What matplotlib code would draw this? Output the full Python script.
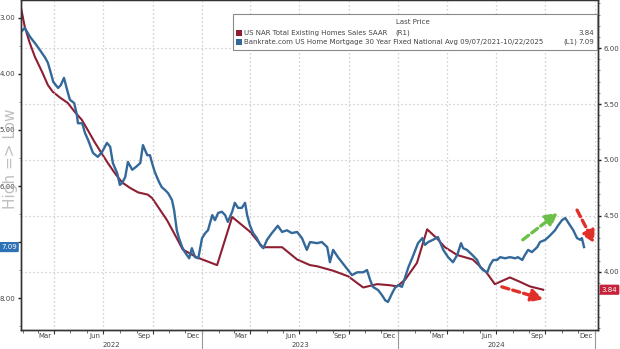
import matplotlib
matplotlib.use("Agg")
import matplotlib.pyplot as plt
import matplotlib.dates as mdates
import matplotlib.transforms as mtransforms
from matplotlib.patches import Rectangle
from matplotlib.ticker import FixedLocator, MultipleLocator, NullFormatter
import pandas as pd

# Bankrate 30y fixed mortgage rate, % (left axis, inverted)
rate_dates = [
    "2022-01-29", "2022-02-05", "2022-02-15", "2022-02-24", "2022-03-05", "2022-03-15",
    "2022-03-20", "2022-03-24", "2022-03-30", "2022-04-08", "2022-04-13", "2022-04-19",
    "2022-04-25", "2022-04-30", "2022-05-08", "2022-05-13", "2022-05-15", "2022-05-23",
    "2022-05-28", "2022-06-03", "2022-06-12", "2022-06-21", "2022-06-29", "2022-07-08",
    "2022-07-14", "2022-07-19", "2022-07-27", "2022-08-01", "2022-08-05", "2022-08-11",
    "2022-08-16", "2022-08-24", "2022-08-31", "2022-09-08", "2022-09-13", "2022-09-17",
    "2022-09-21", "2022-09-26", "2022-09-30", "2022-10-05", "2022-10-13", "2022-10-18",
    "2022-10-24", "2022-10-30", "2022-11-06", "2022-11-10", "2022-11-15", "2022-11-19",
    "2022-11-25", "2022-11-30", "2022-12-08", "2022-12-13", "2022-12-19", "2022-12-25",
    "2023-01-01", "2023-01-07", "2023-01-12", "2023-01-20", "2023-01-25", "2023-01-31",
    "2023-02-07", "2023-02-13", "2023-02-18", "2023-02-26", "2023-03-03", "2023-03-09",
    "2023-03-16", "2023-03-22", "2023-03-26", "2023-03-31", "2023-04-06", "2023-04-13",
    "2023-04-19", "2023-04-25", "2023-05-02", "2023-05-11", "2023-05-22", "2023-05-30",
    "2023-06-08", "2023-06-17", "2023-06-27", "2023-07-06", "2023-07-15", "2023-07-21",
    "2023-08-03", "2023-08-12", "2023-08-22", "2023-08-27", "2023-09-02", "2023-09-11",
    "2023-09-20", "2023-09-30", "2023-10-07", "2023-10-17", "2023-10-28", "2023-11-04",
    "2023-11-10", "2023-11-15", "2023-11-25", "2023-12-02", "2023-12-08", "2023-12-13",
    "2023-12-21", "2023-12-26", "2024-01-01", "2024-01-08", "2024-01-14", "2024-01-20",
    "2024-01-27", "2024-02-02", "2024-02-07", "2024-02-15", "2024-02-20", "2024-02-26",
    "2024-03-06", "2024-03-15", "2024-03-25", "2024-04-03", "2024-04-12", "2024-04-20",
    "2024-04-27", "2024-05-01", "2024-05-08", "2024-05-18", "2024-05-27", "2024-06-02",
    "2024-06-07", "2024-06-15", "2024-06-20", "2024-06-26", "2024-07-03", "2024-07-09",
    "2024-07-18", "2024-07-27", "2024-08-06", "2024-08-11", "2024-08-19", "2024-08-24",
    "2024-08-30", "2024-09-06", "2024-09-16", "2024-09-21", "2024-10-01", "2024-10-10",
    "2024-10-19", "2024-10-25", "2024-11-01", "2024-11-07", "2024-11-16", "2024-11-22",
    "2024-11-29", "2024-12-05", "2024-12-08", "2024-12-12",
]
rate_vals = [
    3.25, 3.18, 3.34, 3.45, 3.57, 3.71,
    3.80, 3.93, 4.14, 4.25, 4.20, 4.07,
    4.29, 4.46, 4.52, 4.73, 4.88, 4.88,
    5.05, 5.18, 5.41, 5.48, 5.39, 5.23,
    5.30, 5.59, 5.77, 5.98, 5.95, 5.84,
    5.57, 5.71, 5.66, 5.59, 5.27, 5.36,
    5.45, 5.45, 5.59, 5.75, 5.93, 6.02,
    6.07, 6.13, 6.25, 6.43, 6.79, 6.93,
    7.09, 7.18, 7.29, 7.11, 7.27, 7.29,
    6.93, 6.84, 6.79, 6.52, 6.61, 6.48,
    6.46, 6.52, 6.64, 6.46, 6.30, 6.39,
    6.39, 6.30, 6.52, 6.70, 6.84, 6.93,
    7.05, 7.11, 6.96, 6.84, 6.71, 6.82,
    6.79, 6.84, 6.82, 6.93, 7.14, 7.00,
    7.02, 7.00, 7.09, 7.36, 7.14, 7.27,
    7.38, 7.50, 7.59, 7.54, 7.54, 7.50,
    7.68, 7.80, 7.86, 7.95, 8.04, 8.07,
    7.91, 7.82, 7.77, 7.80, 7.63, 7.45,
    7.29, 7.14, 7.02, 6.93, 7.05, 7.00,
    6.96, 6.91, 7.14, 7.27, 7.36, 7.23,
    7.02, 7.11, 7.14, 7.23, 7.32, 7.45,
    7.50, 7.54, 7.41, 7.32, 7.32, 7.27,
    7.29, 7.27, 7.29, 7.27, 7.32, 7.23,
    7.14, 7.18, 7.09, 7.00, 6.96, 6.88,
    6.79, 6.70, 6.61, 6.57, 6.70, 6.79,
    6.93, 6.96, 6.93, 7.09,
]

# NAR existing home sales, SAAR in millions (right axis)
sales_dates = [
    "2022-01-29", "2022-02-05", "2022-02-14", "2022-02-24", "2022-03-09", "2022-03-20",
    "2022-03-29", "2022-04-11", "2022-04-26", "2022-05-09", "2022-05-22", "2022-06-02",
    "2022-06-15", "2022-06-28", "2022-07-10", "2022-07-23", "2022-08-05", "2022-08-20",
    "2022-09-04", "2022-09-22", "2022-09-30", "2022-10-28", "2022-11-15", "2022-11-26",
    "2022-12-22", "2023-01-29", "2023-02-26", "2023-03-31", "2023-04-24", "2023-05-30",
    "2023-06-27", "2023-07-21", "2023-08-03", "2023-09-02", "2023-09-30", "2023-10-28",
    "2023-11-23", "2023-12-17", "2023-12-30", "2024-01-14", "2024-02-05", "2024-02-24",
    "2024-03-13", "2024-03-28", "2024-04-20", "2024-05-19", "2024-06-14", "2024-06-29",
    "2024-07-27", "2024-08-15", "2024-09-02", "2024-09-27",
]
sales_vals = [
    6.36, 6.19, 6.05, 5.92, 5.79, 5.67,
    5.61, 5.56, 5.51, 5.43, 5.36, 5.27,
    5.16, 5.06, 4.97, 4.88, 4.80, 4.75,
    4.71, 4.69, 4.66, 4.46, 4.30, 4.20,
    4.13, 4.06, 4.49, 4.36, 4.22, 4.22,
    4.11, 4.06, 4.05, 4.01, 3.96, 3.86,
    3.89, 3.88, 3.87, 3.93, 4.08, 4.38,
    4.30, 4.22, 4.15, 4.11, 3.99, 3.89,
    3.95, 3.91, 3.87, 3.84,
]

last_rate = 7.09
last_sales = 3.84

rate_name = "Bankrate.com US Home Mortgage 30 Year Fixed National Avg 09/07/2021-10/22/2025"
sales_name = "US NAR Total Existing Homes Sales SAAR"

left_ticks = [3, 4, 5, 6, 7, 8]
left_labels = ["3.00", "4.00", "5.00", "6.00", "", "8.00"]
right_ticks = [4.0, 4.5, 5.0, 5.5, 6.0]
right_labels = ["4.00", "4.50", "5.00", "5.50", "6.00"]
years = [2022, 2023, 2024]

blue = "#33699a"
red = "#8e1f33"
grid_col = "#c4c4c4"
txt_col = "#444444"

x_start = pd.Timestamp("2022-01-29")
x_end = pd.Timestamp("2025-01-07")

fig = plt.figure(figsize=(6.2, 3.49), dpi=100, facecolor="white")
ax = fig.add_axes([21 / 620, 19 / 349, 577 / 620, 330 / 349])
ax2 = ax.twinx()
# blue series sits above the red one
ax.set_zorder(ax2.get_zorder() + 1)
ax.patch.set_visible(False)
ax2.patch.set_visible(True)
ax2.patch.set_facecolor("white")

ax2.plot(pd.to_datetime(sales_dates), sales_vals, color=red, lw=1.5, solid_joinstyle="round")
ax.plot(pd.to_datetime(rate_dates), rate_vals, color=blue, lw=1.7, solid_joinstyle="round")

ax.set_xlim(x_start, x_end)
ax.set_ylim(8.57, 2.68)
ax2.set_ylim(3.48, 6.43)

# x axis: gridlines at quarter starts, labels mid-month
ax.xaxis.set_major_locator(mdates.MonthLocator(bymonth=[1, 4, 7, 10]))
ax.xaxis.set_major_formatter(NullFormatter())
ax.xaxis.set_minor_locator(mdates.MonthLocator(bymonth=[3, 6, 9, 12], bymonthday=15))
ax.xaxis.set_minor_formatter(mdates.DateFormatter("%b"))
ax.tick_params(axis="x", which="major", length=3, width=0.8, color="#333333")
ax.tick_params(axis="x", which="minor", length=0, labelsize=5, labelcolor=txt_col, pad=2)
ax.grid(axis="x", which="major", color=grid_col, lw=0.9, ls=(0, (1, 2.2)))

sec = ax.secondary_xaxis("bottom")
sec.xaxis.set_major_locator(mdates.MonthLocator())
sec.xaxis.set_major_formatter(NullFormatter())
sec.tick_params(length=2, width=0.6, color="#555555")
sec.spines["bottom"].set_visible(False)

# left axis
ax.set_yticks(left_ticks, labels=left_labels)
ax.yaxis.set_minor_locator(MultipleLocator(0.5))
ax.tick_params(axis="y", which="major", length=2.5, width=1, color="#222222",
               labelsize=5, labelcolor=txt_col, pad=1.5)
ax.tick_params(axis="y", which="minor", length=1.5, width=0.6, color="#777777")

# right axis
ax2.yaxis.set_major_locator(FixedLocator(right_ticks))
ax2.set_yticklabels(right_labels)
ax2.yaxis.set_minor_locator(MultipleLocator(0.1))
ax2.tick_params(axis="y", which="major", length=2.5, width=1, color="#222222",
                labelsize=5, labelcolor=txt_col, pad=1.5)
ax2.tick_params(axis="y", which="minor", length=1.5, width=0.6, color="#777777")
ax2.grid(axis="y", which="major", color=grid_col, lw=0.9, ls=(0, (1, 2.2)))

for a in (ax, ax2):
    for s in a.spines.values():
        s.set_color("#333333")
        s.set_linewidth(1.0)
ax.spines["top"].set_linewidth(0.8)

# year labels and separators under the month labels
xy_trans = mtransforms.blended_transform_factory(ax.transData, ax.transAxes)
for yr in years:
    a0 = max(pd.Timestamp(f"{yr}-01-01"), x_start)
    a1 = min(pd.Timestamp(f"{yr + 1}-01-01"), x_end)
    mid = a0 + (a1 - a0) / 2
    ax.text(mid, -0.045, str(yr), transform=xy_trans, ha="center", va="center",
            fontsize=5, color=txt_col)
for yr in years[1:] + [years[-1] + 1]:
    d = mdates.date2num(pd.Timestamp(f"{yr}-01-01"))
    ax.plot([d, d], [-0.004, -0.06], transform=xy_trans, color="#999999",
            lw=0.8, clip_on=False)

ax.text(-0.019, 0.52, "High => Low", transform=ax.transAxes, rotation=90,
        ha="center", va="center", fontsize=11, color="#b4b4b4", alpha=0.85, zorder=6)

# last value tags on each axis
left_tag = mtransforms.blended_transform_factory(ax.transAxes, ax.transData)
ax.text(-0.021, last_rate, f"{last_rate:.2f}", transform=left_tag, ha="center",
        va="center", fontsize=5, color="white", clip_on=False, zorder=20,
        bbox=dict(boxstyle="round,pad=0.3,rounding_size=0.2", fc="#2e72b6", ec="none"))
right_tag = mtransforms.blended_transform_factory(ax2.transAxes, ax2.transData)
ax2.text(1.0199, last_sales, f"{last_sales:.2f}", transform=right_tag, ha="center",
         va="center", fontsize=5, color="white", clip_on=False, zorder=20,
         bbox=dict(boxstyle="round,pad=0.3,rounding_size=0.2", fc="#c4233b", ec="none"))

# trend arrows
def dashed_arrow(d0, v0, d1, v1, color):
    ax.annotate("", xy=(mdates.date2num(pd.Timestamp(d1)), v1),
                xytext=(mdates.date2num(pd.Timestamp(d0)), v0),
                arrowprops=dict(arrowstyle="-|>,head_length=0.7,head_width=0.38",
                                color=color, lw=2.4, ls=(0, (2.2, 1.2)),
                                shrinkA=0, shrinkB=0),
                zorder=8)

dashed_arrow("2024-08-20", 6.96, "2024-10-24", 6.48, "#6cc04a")
dashed_arrow("2024-11-29", 6.43, "2024-12-31", 7.02, "#e0302a")
dashed_arrow("2024-07-12", 7.80, "2024-09-27", 8.02, "#e0302a")

# legend panel
ax.add_patch(Rectangle((0.367, 0.848), 0.631, 0.11, transform=ax.transAxes,
                       fc="white", ec="#8a8a8a", lw=0.8, zorder=10))
ax.text(0.68, 0.932, "Last Price", transform=ax.transAxes, ha="center", va="center",
        fontsize=5, color=txt_col, zorder=11)
rows = [(0.9, red, sales_name, "(R1)", 0.648, last_sales),
        (0.872, blue, rate_name, "(L1)", 0.94, last_rate)]
for fy, col, name, tag, tag_x, val in rows:
    ax.add_patch(Rectangle((0.3726, fy - 0.009), 0.0104, 0.018, transform=ax.transAxes,
                           fc=col, ec="none", zorder=11))
    ax.text(0.3865, fy, name, transform=ax.transAxes, ha="left", va="center",
            fontsize=5, color=txt_col, zorder=11)
    ax.text(tag_x, fy, tag, transform=ax.transAxes, ha="left", va="center",
            fontsize=5, color=txt_col, zorder=11)
    ax.text(0.993, fy, f"{val:.2f}", transform=ax.transAxes, ha="right", va="center",
            fontsize=5, color=txt_col, zorder=11)

fig.savefig("out.png", dpi=100, facecolor="white")
